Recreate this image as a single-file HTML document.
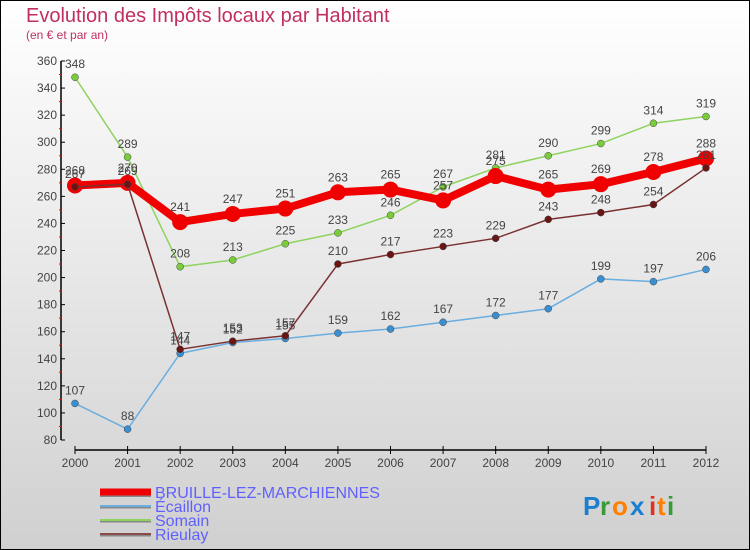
<!DOCTYPE html>
<html><head><meta charset="utf-8"><style>
body{margin:0}
#c{width:750px;height:550px;position:relative;overflow:hidden}
svg{display:block}
text{font-family:"Liberation Sans",sans-serif}
</style></head><body>
<div id="c">
<svg id="s" width="750" height="550" xmlns="http://www.w3.org/2000/svg">
<defs><linearGradient id="bg" x1="0" y1="0" x2="0" y2="1"><stop offset="0" stop-color="#ffffff"/><stop offset="1" stop-color="#d0d0d0"/></linearGradient></defs>
<rect x="0.5" y="0.5" width="749" height="549" fill="url(#bg)" stroke="#000"/>
<text x="26" y="22" font-size="20" fill="#c0305f">Evolution des Impôts locaux par Habitant</text>
<text x="26" y="39" font-size="12" fill="#c0305f">(en € et par an)</text>
<g id="axes"></g><g id="series"></g><g id="legend"></g>
<g font-size="26" font-weight="bold">
<text x="583" y="515" fill="#1a7fd0">P</text><text x="600" y="515" fill="#3a9a3a">r</text><text x="612" y="515" fill="#ff8000">o</text><text x="630" y="515" fill="#1a7fd0">x</text><text x="649" y="515" fill="#e03020">i</text><text x="657" y="515" fill="#ff8000">t</text><text x="667" y="515" fill="#3a9a3a">i</text>
</g>
</svg></div>
<script>
const years=["2000","2001","2002","2003","2004","2005","2006","2007","2008","2009","2010","2011","2012"];
const bruille=[268,270,241,247,251,263,265,257,275,265,269,278,288];
const ecaillon=[107,88,144,152,155,159,162,167,172,177,199,197,206];
const somain=[348,289,208,213,225,233,246,267,281,290,299,314,319];
const rieulay=[267,269,147,153,157,210,217,223,229,243,248,254,281];
const yTicks=[80,100,120,140,160,180,200,220,240,260,280,300,320,340,360];
const NS="http://www.w3.org/2000/svg";
const X=i=>75+i*(706-75)/12;
const Y=v=>440-(v-80)*(379/280);
function mk(t,a,p){const e=document.createElementNS(NS,t);for(const k in a)e.setAttribute(k,a[k]);p.appendChild(e);return e;}
const ax=document.getElementById('axes');
let e=mk('line',{x1:61,y1:61,x2:61,y2:440,stroke:'#000','stroke-width':1.5},ax);

e=mk('line',{x1:75,y1:450,x2:706,y2:450,stroke:'#000','stroke-width':1.5},ax);

yTicks.forEach((v,i)=>{
 mk('line',{x1:61,y1:Y(v),x2:65,y2:Y(v),stroke:'#000'},ax);
 if(i<yTicks.length-1)mk('line',{x1:59,y1:Y(v+10),x2:62,y2:Y(v+10),stroke:'#f00'},ax);
 const t=mk('text',{x:57,y:Y(v)+4,'font-size':12,fill:'#444','text-anchor':'end'},ax);t.textContent=v;
 
});
years.forEach((y,i)=>{
 mk('line',{x1:X(i),y1:446,x2:X(i),y2:454,stroke:'#000'},ax);
 const t=mk('text',{x:X(i),y:467,'font-size':12,fill:'#444','text-anchor':'middle'},ax);t.textContent=y;
 
});
const sg=document.getElementById('series');
const defs=[
 {d:somain,c:'#8fd35f',dot:'#7acc3a',w:1.5,r:3.5,n:'somain'},
 {d:ecaillon,c:'#6aaee0',dot:'#3a8fd0',w:1.5,r:3.5,n:'ecaillon'},
 {d:bruille,c:'#f00000',dot:'#f00000',w:8,r:8,n:'bruille'},
 {d:rieulay,c:'#7a3030',dot:'#6a1515',w:1.5,r:3.5,n:'rieulay'}
];
defs.forEach(s=>{
 const g=mk('g',{},sg);
 const pl=mk('polyline',{points:s.d.map((v,i)=>X(i)+','+Y(v)).join(' '),fill:'none',stroke:s.c,'stroke-width':s.w,'stroke-linejoin':'round'},g);
 
 s.d.forEach((v,i)=>{
  const c=mk('circle',{cx:X(i),cy:Y(v),r:s.r,fill:s.dot,stroke:s.r>5?'none':'#444','stroke-width':0.5},g);
  
  const t=mk('text',{x:X(i),y:Y(v)-(s.r>5?11:9),'font-size':12,fill:'#444','text-anchor':'middle'},g);t.textContent=v;
  
 });
});
const lg=document.getElementById('legend');
const leg=[['BRUILLE-LEZ-MARCHIENNES','#f00000',7],['Écaillon','#6aaee0',2],['Somain','#8fd35f',2],['Rieulay','#8a4a4a',2]];
leg.forEach((l,i)=>{
 const y=492+i*14;
 const g=mk('g',{},lg);
 mk('line',{x1:100,y1:y+1.5,x2:151,y2:y+1.5,stroke:'#888','stroke-width':l[2]},g);
 mk('line',{x1:100,y1:y,x2:151,y2:y,stroke:l[1],'stroke-width':l[2]},g);
 const t=mk('text',{x:155,y:y+6,'font-size':16,fill:'#6060ff'},g);t.textContent=l[0];
});
</script></body></html>
